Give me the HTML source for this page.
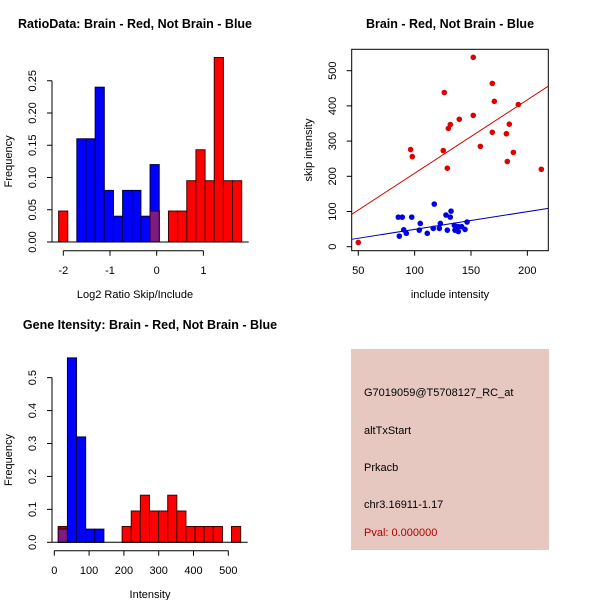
<!DOCTYPE html>
<html><head><meta charset="utf-8"><style>
body{margin:0;background:#fff;}
svg{display:block;font-family:"Liberation Sans",Arial,sans-serif;}
</style></head><body>
<svg id="c" width="600" height="600" viewBox="0 0 600 600">
<rect x="0" y="0" width="600" height="600" fill="#fff"/>
<g id="p1"></g>
<g id="p2"></g>
<g id="p3"></g>
<g id="p4">
<rect x="351" y="349" width="198" height="201" fill="#e6c8c1"/>
<text x="364" y="396" font-size="11" fill="#000">G7019059@T5708127_RC_at</text>
<text x="364" y="434" font-size="11" fill="#000">altTxStart</text>
<text x="364" y="471" font-size="11" fill="#000">Prkacb</text>
<text x="364" y="508" font-size="11" fill="#000">chr3.16911-1.17</text>
<text x="364" y="536" font-size="11" fill="#b00000">Pval: 0.000000</text>
</g>
</svg>
<script>
// ---- Chart 1: ratio histogram ----
const ratioBinStart = -2.1;
const ratioBinWidth = 0.196;
const ratioRed = [0.048,0,0,0,0,0,0,0,0,0,0.048,0,0.048,0.048,0.095,0.143,0.095,0.286,0.095,0.095];
const ratioBlueStart = -1.71;
const ratioBlue = [0.16,0.16,0.24,0.08,0.04,0.08,0.08,0.04,0.12];
const ratioXTicks = [-2,-1,0,1];
const ratioYTicks = ["0.00","0.05","0.10","0.15","0.20","0.25"];

// ---- Chart 2: scatter ----
const redX = [50,96.4,97.9,126.3,125.4,129,129.9,131.7,139.6,152,152,158.3,168.9,170.7,168.9,181.4,184,182.2,187.6,192,212.4];
const redY = [12,276,256,438,273,223,336,347,362,538,373,285,464,413,325,321,348,242,268,404,220];
const blueX = [117.4,85.5,89,97.4,127.8,132.3,131.6,105,122.8,146.5,90.3,92.6,86.4,104.1,111.2,116.5,121.9,129,135.2,138.7,135.8,138.7,141.7,144.7,137.3];
const blueY = [121,84,84,84,90,101,84,66,66,70,48,38,30,47,38,52,52,47,61,57,47,43,57,49,51];
const redLine = [[44.1,92],[218.6,456]];
const blueLine = [[44.1,21],[218.6,109]];
const scatXTicks = [50,100,150,200];
const scatYTicks = [0,100,200,300,400,500];

// ---- Chart 3: gene intensity histogram ----
const geneBinStart = 11.5;
const geneBinWidth = 26.2;
const geneRed = [0.048,0,0,0,0,0,0,0.048,0.095,0.143,0.095,0.095,0.143,0.095,0.048,0.048,0.048,0.048,0,0.048];
const geneBlue = [0.04,0.56,0.32,0.04,0.04];
const geneXTicks = [0,100,200,300,400,500];
const geneYTicks = ["0.0","0.1","0.2","0.3","0.4","0.5"];

const NS="http://www.w3.org/2000/svg";
function mk(parent,tag,attrs,text){const e=document.createElementNS(NS,tag);for(const k in attrs)e.setAttribute(k,attrs[k]);if(text!==undefined)e.textContent=text;parent.appendChild(e);return e;}

function histo(g,xs,ys,redStart,bw,red,blueStart,blue,overRed,xTicks,yTicks,xTickY,axisY,axisX,title,xlab,titleX,titleY,xlabY){
  const t=mk(g,'text',{x:titleX,y:titleY,'font-size':12.5,'font-weight':'bold','text-anchor':'middle'},title);
  
  
  const bars=[];
  red.forEach((v,i)=>{if(v>0){const x0=redStart+i*bw;bars.push({x0:x0,x1:x0+bw,v:v,c:'red'});}});
  blue.forEach((v,i)=>{if(v>0){const x0=blueStart+i*bw;bars.push({x0:x0,x1:x0+bw,v:v,c:'blue'});}});
  red.forEach((v,i)=>{if(v<=0)return;const x0=redStart+i*bw;
    const r=mk(g,'rect',{x:xs(x0),y:ys(v),width:xs(x0+bw)-xs(x0),height:ys(0)-ys(v),fill:'#ff0000',stroke:'#400000','stroke-width':1});
    
    });
  blue.forEach((v,i)=>{if(v<=0)return;const x0=blueStart+i*bw;
    const r=mk(g,'rect',{x:xs(x0),y:ys(v),width:xs(x0+bw)-xs(x0),height:ys(0)-ys(v),fill:'#0000ff',stroke:'#000040','stroke-width':1});
    
    
    // overlap with red
    red.forEach((rv,j)=>{if(rv<=0)return;const r0=redStart+j*bw;
      if(Math.abs(r0-x0)<bw*0.5){
        if(rv>v){const ex=mk(g,'rect',{x:xs(x0),y:ys(rv),width:xs(x0+bw)-xs(x0),height:ys(v)-ys(rv),fill:'#8b0a0a',stroke:'#400000','stroke-width':1});
          
          }
        const m=Math.min(rv,v);
        const o=mk(g,'rect',{x:xs(x0),y:ys(m),width:xs(x0+bw)-xs(x0),height:ys(0)-ys(m),fill:'#7f1a80',stroke:'#300030','stroke-width':1});
        
        
      }});
  });
  const allx=bars.map(b=>[b.x0,b.x1]).flat();
  const base=mk(g,'line',{x1:axisX,y1:ys(0),x2:xs(Math.max(...allx))+7,y2:ys(0),stroke:'#000'});
  
  
  // y axis
  const yv=yTicks.map(Number);
  const ya=mk(g,'line',{x1:axisX,y1:ys(yv[0]),x2:axisX,y2:ys(yv[yv.length-1]),stroke:'#000'});
  
  
  yTicks.forEach(s=>{const y=ys(Number(s));mk(g,'line',{x1:axisX-5,y1:y,x2:axisX,y2:y,stroke:'#000'});
    const tx=mk(g,'text',{x:36,y:y,'font-size':11,'text-anchor':'middle',transform:`rotate(-90 36 ${y})`},s);
    
    });
  const xa=mk(g,'line',{x1:xs(xTicks[0]),y1:axisY,x2:xs(xTicks[xTicks.length-1]),y2:axisY,stroke:'#000'});
  
  
  xTicks.forEach(v=>{const x=xs(v);mk(g,'line',{x1:x,y1:axisY,x2:x,y2:axisY+5,stroke:'#000'});
    const tx=mk(g,'text',{x:x,y:xTickY,'font-size':11,'text-anchor':'middle'},String(v));
    
    });
  const xl=mk(g,'text',{x:titleX,y:xlabY,'font-size':11,'text-anchor':'middle'},xlab);
  
  
  const cy=(ys(yv[0])+ys(yv[yv.length-1]))/2;
  const yl=mk(g,'text',{x:12,y:cy,'font-size':11,'text-anchor':'middle',transform:`rotate(-90 12 ${cy})`},'Frequency');
  
  
}

// chart 1
{const xs=v=>156.7+v*46.7, ys=v=>242-v*645;
 histo(document.getElementById('p1'),xs,ys,ratioBinStart,ratioBinWidth,ratioRed,ratioBlueStart,ratioBlue,false,ratioXTicks,ratioYTicks,274,250.7,52,'RatioData: Brain - Red, Not Brain - Blue','Log2 Ratio Skip/Include',135,28,298);}
// chart 3
{const xs=v=>54.3+v*0.348, ys=v=>542.3-v*329.3;
 const blueStart=geneBinStart;
 histo(document.getElementById('p3'),xs,ys,geneBinStart,geneBinWidth,geneRed,blueStart,geneBlue,true,geneXTicks,geneYTicks,574,550.7,52,'Gene Itensity: Brain - Red, Not Brain - Blue','Intensity',150,329,598);}
// chart 2
{const g=document.getElementById('p2');
 const xs=v=>358.3+(v-50)*1.127, ys=v=>246.7-v*0.352;
 const t=mk(g,'text',{x:450,y:28,'font-size':12.5,'font-weight':'bold','text-anchor':'middle'},'Brain - Red, Not Brain - Blue');
 
 
 const box=mk(g,'rect',{x:351.7,y:49.3,width:196.6,height:201.4,fill:'none',stroke:'#000'});
 
 
 const clip=mk(g,'clipPath',{id:'sc'});mk(clip,'rect',{x:351.7,y:49.3,width:196.6,height:201.4});
 const rl=mk(g,'line',{x1:xs(redLine[0][0]),y1:ys(redLine[0][1]),x2:xs(redLine[1][0]),y2:ys(redLine[1][1]),stroke:'#cc0000','clip-path':'url(#sc)'});
 
 
 const bl=mk(g,'line',{x1:xs(blueLine[0][0]),y1:ys(blueLine[0][1]),x2:xs(blueLine[1][0]),y2:ys(blueLine[1][1]),stroke:'#0000aa','clip-path':'url(#sc)'});
 
 
 redX.forEach((x,i)=>{const c=mk(g,'circle',{cx:xs(x),cy:ys(redY[i]),r:2.8,fill:'#e00000'});
   
   });
 blueX.forEach((x,i)=>{const c=mk(g,'circle',{cx:xs(x),cy:ys(blueY[i]),r:2.8,fill:'#0000e0'});
   
   });
 scatXTicks.forEach(v=>{const x=xs(v);mk(g,'line',{x1:x,y1:250.7,x2:x,y2:255.7,stroke:'#000'});
   const tx=mk(g,'text',{x:x,y:274,'font-size':11,'text-anchor':'middle'},String(v));
   
   });
 scatYTicks.forEach(v=>{const y=ys(v);mk(g,'line',{x1:346.7,y1:y,x2:351.7,y2:y,stroke:'#000'});
   const tx=mk(g,'text',{x:336,y:y,'font-size':11,'text-anchor':'middle',transform:`rotate(-90 336 ${y})`},String(v));
   
   });
 const xl=mk(g,'text',{x:450,y:298,'font-size':11,'text-anchor':'middle'},'include intensity');
 
 
 const yl=mk(g,'text',{x:312,y:150,'font-size':11,'text-anchor':'middle',transform:'rotate(-90 312 150)'},'skip intensity');
 
 
}
</script>
</body></html>
